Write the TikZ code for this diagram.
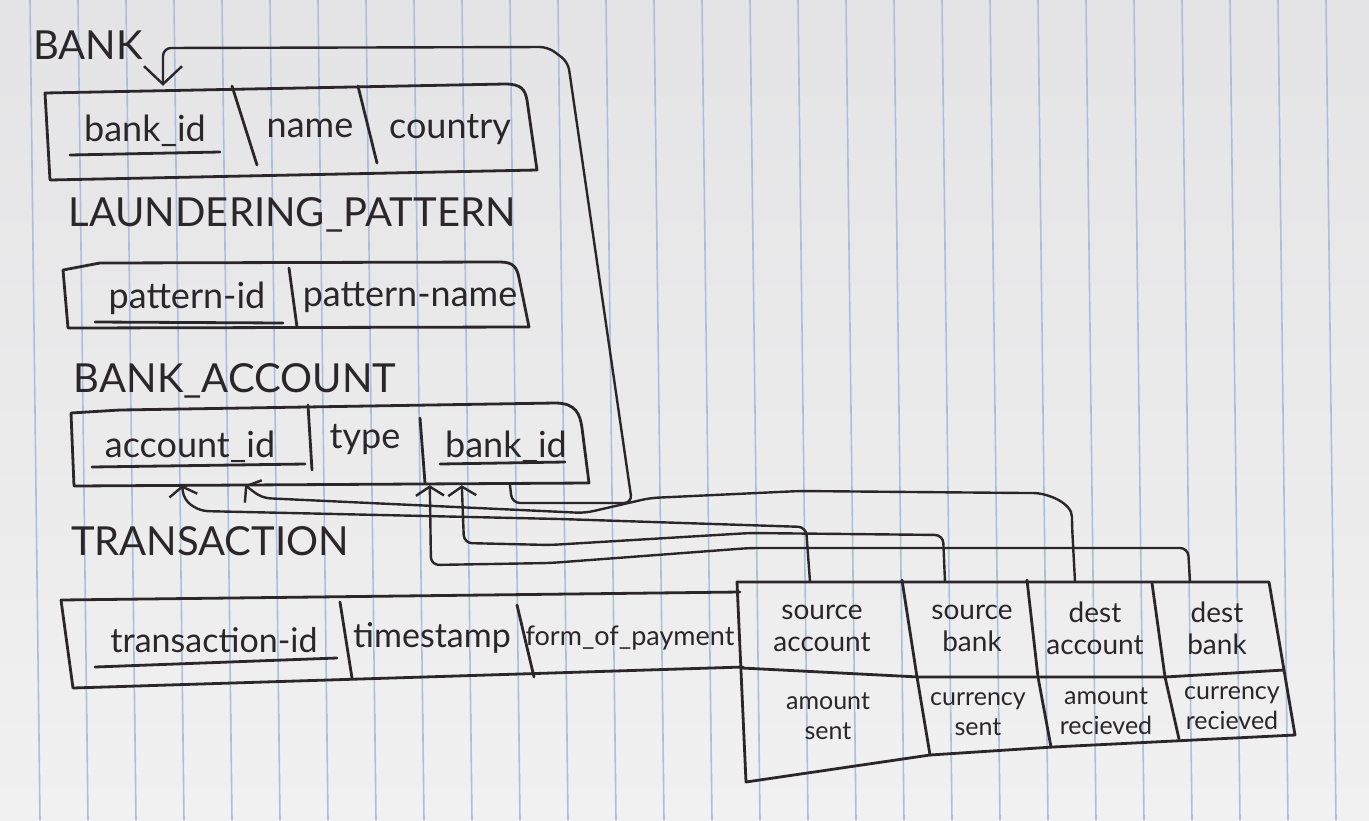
\documentclass[tikz,border=0pt]{standalone}
\usepackage{fontspec}
\setmainfont{Lato}
\usetikzlibrary{arrows.meta}
\definecolor{ink}{HTML}{2B2629}
\definecolor{rulecol}{HTML}{A9BFDD}
\definecolor{paperA}{HTML}{E4E4E6}
\definecolor{paperB}{HTML}{F1F1F1}
\begin{document}
\begin{tikzpicture}[x=1pt,y=-1pt,
  box/.style={draw=ink, line width=2.8pt, line cap=round, line join=round},
  link/.style={draw=ink, line width=2.4pt, line cap=round, line join=round, rounded corners=8pt,
    -{Straight Barb[length=9pt,width=28pt,line width=2.4pt]}},
  title/.style={text=ink, inner sep=0pt, font=\fontsize{40}{44}\selectfont},
  field/.style={text=ink, inner sep=0pt, font=\fontsize{36}{40}\selectfont},
  cell/.style={text=ink, inner sep=0pt, align=center, font=\fontsize{28}{32}\selectfont},
  smallcell/.style={text=ink, inner sep=0pt, align=center, font=\fontsize{25}{30}\selectfont},
]
% ruled paper
\useasboundingbox (0,0) rectangle (1369,820);
\shade[top color=paperA, bottom color=paperB] (0,0) rectangle (1369,820);
\foreach \k in {0,...,27} {
  \draw[rulecol, line width=1.6pt] ({30+48*\k},0) -- ({40+48*\k},820);
}

% table titles
\node[title] (tBank) at (88,45) {BANK};
\node[title] (tLP) at (292,215) {LAUNDERING\_PATTERN};
\node[title] (tBA) at (235,381) {BANK\_ACCOUNT};
\node[title] (tTr) at (210,541) {TRANSACTION};

% BANK
\draw[box] (45,93) -- (505,84) .. controls (522,84) and (525,90) .. (527,100) -- (537,170) -- (50,180) -- cycle;
\draw[box] (232,86) -- (257,165);
\draw[box] (358,86) -- (377,163);
\node[field, minimum width=200pt, minimum height=90pt] (bBid) at (145,131) {bank\_id};
\node[field] (bName) at (310,128) {name};
\node[field] (bCountry) at (450,130) {country};
\draw[box] (70,155) -- (220,152);

% LAUNDERING_PATTERN
\draw[box] (63,270) -- (100,263) -- (500,262) .. controls (514,262) and (517,268) .. (519,278) -- (529,327) -- (68,328) -- cycle;
\draw[box] (289,268) -- (297,327);
\node[field] (pId) at (187,298) {pattern-id};
\node[field] (pName) at (410,298) {pattern-name};
\draw[box] (95,322) -- (283,323);

% BANK_ACCOUNT
\draw[box] (71,413) -- (120,410) -- (555,403) .. controls (576,403) and (580,414) .. (582,428) -- (589,483) -- (74,486) -- cycle;
\draw[box] (308,405) -- (312,470);
\draw[box] (420,418) -- (425,483);
\node[field, minimum width=238pt, minimum height=76pt] (baAcc) at (190,447) {account\_id};
\node[field] (baType) at (365,440) {type};
\node[field, minimum width=166pt, minimum height=76pt] (baBid) at (506,447) {bank\_id};
\draw[box] (92,467) -- (305,464);
\draw[box] (440,464) -- (565,462);

% TRANSACTION, left part
\draw[box] (61,600) -- (740,592);
\draw[box] (61,600) -- (73,688) -- (743,667);
\draw[box] (340,602) -- (352,678);
\draw[box] (517,605) -- (534,677);
\node[field, font=\fontsize{34}{38}\selectfont] (trId) at (214,640) {transaction-id};
\node[field, font=\fontsize{34}{38}\selectfont] (trTime) at (432,638) {timestamp};
\node[field, font=\fontsize{27}{30}\selectfont] (trForm) at (630,638) {form\_of\_payment};
\draw[box] (95,667) -- (337,658);

% TRANSACTION, right block
\draw[box] (737,582) -- (1269,582) -- (1284,670) -- (1295,735) -- (1053,747) -- (930,755) -- (746,782) -- cycle;
\draw[box] (742,668) -- (919,677) -- (1165,677) -- (1284,670);
\draw[box] (902,580) -- (917,677) -- (930,755);
\draw[box] (1027,580) -- (1038,677) -- (1051,747);
\draw[box] (1152,583) -- (1165,677) -- (1179,739);
\node[cell, minimum width=165pt, minimum height=92pt] (tSrcAcc) at (822,628) {source\\account};
\node[cell, minimum width=123pt, minimum height=92pt] (tSrcBank) at (972,628) {source\\bank};
\node[cell, minimum width=123pt, minimum height=92pt] (tDstAcc) at (1095,628) {dest\\account};
\node[cell, minimum width=115pt, minimum height=92pt] (tDstBank) at (1217,628) {dest\\bank};
\node[smallcell] (tAmtS) at (828,716) {amount\\sent};
\node[smallcell] (tCurS) at (978,714) {currency\\sent};
\node[smallcell] (tAmtR) at (1106,711) {amount\\recieved};
\node[smallcell] (tCurR) at (1232,708) {currency\\recieved};

% references
\draw[link, -{Straight Barb[length=18pt,width=38pt,line width=2.4pt]}]
  ([xshift=4pt]baBid.south) -- (512,503) -- (632,503) -- (568,62) -- (548,47) -- (163,48) -- ([xshift=18pt]bBid.north);
\draw[link] ([xshift=-12pt]tSrcAcc.north) -- (806,527) -- (560,519) -- (200,511) -- (184,500) -- ([xshift=-8pt]baAcc.south);
\draw[link] ([xshift=-20pt]tDstAcc.north) -- (1072,525) to[out=90,in=0] (1025,493) -- (800,491) -- (650,498) -- (585,513) -- (262,498) -- ([xshift=55pt]baAcc.south);
\draw[link] ([xshift=-27pt]tDstBank.north) -- (1188,548) -- (750,548) -- (550,563) -- (431,565) -- ([xshift=7pt]baBid.south west);
\draw[link] ([xshift=-27pt]tSrcBank.north) -- (943,535) -- (750,533) -- (550,545) -- (464,543) -- ([xshift=39pt]baBid.south west);
\end{tikzpicture}
\end{document}
